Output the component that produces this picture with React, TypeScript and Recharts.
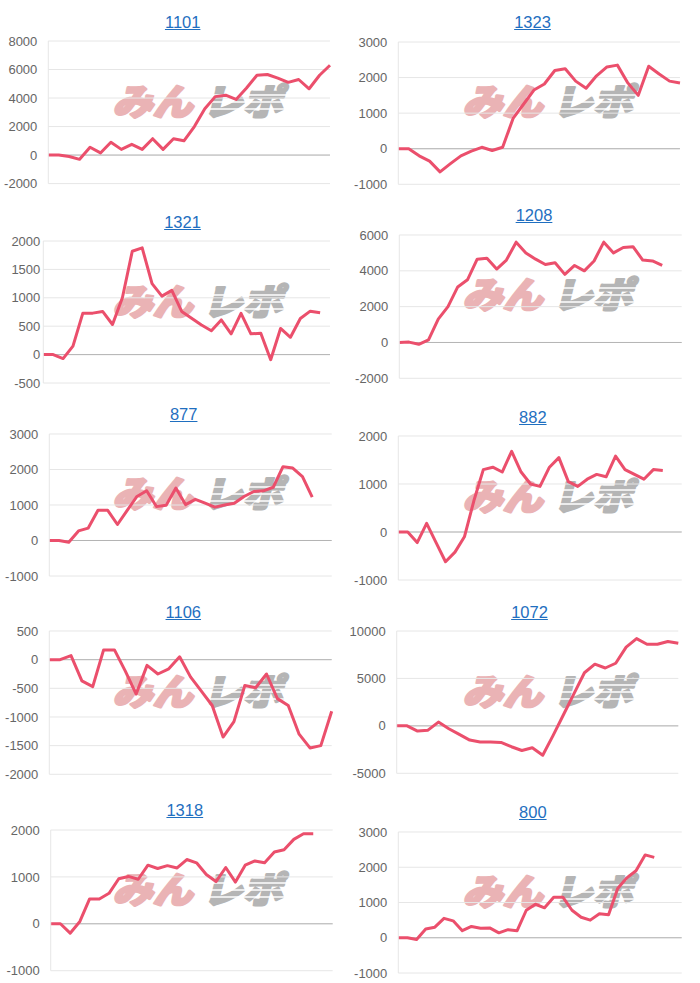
import React from 'react';
import { LineChart, Line, XAxis, YAxis, CartesianGrid, ReferenceLine } from 'recharts';

// ---- data ----
const titles = ['1101', '1323', '1321', '1208', '877', '882', '1106', '1072', '1318', '800'];

const s1101 = [0, 0, -100, -300, 550, 150, 900, 400, 750, 400, 1150, 400, 1150, 1000, 2000, 3250, 4100, 4200, 3900, 4700, 5600, 5650, 5400, 5100, 5300, 4650, 5600, 6300];
const s1323 = [0, 0, -200, -350, -650, -420, -200, -70, 40, -50, 40, 850, 1250, 1650, 1820, 2200, 2250, 1900, 1700, 2050, 2300, 2350, 1850, 1500, 2320, 2100, 1900, 1850];
const s1321 = [0, 0, -70, 150, 730, 730, 760, 530, 1000, 1820, 1880, 1250, 1030, 1130, 760, 640, 520, 420, 610, 365, 725, 365, 375, -90, 460, 305, 635, 765, 735];
const s1208 = [0, 20, -100, 150, 1300, 2000, 3100, 3500, 4650, 4700, 4100, 4600, 5600, 5000, 4650, 4350, 4450, 3800, 4300, 4000, 4550, 5600, 5000, 5300, 5350, 4600, 4550, 4300];
const s877 = [0, 0, -50, 270, 350, 850, 850, 450, 850, 1240, 1400, 960, 990, 1480, 1010, 1160, 1050, 940, 1000, 1050, 1240, 1380, 1400, 1500, 2080, 2040, 1800, 1220];
const s882 = [0, 0, -220, 180, -220, -620, -420, -100, 650, 1300, 1350, 1250, 1680, 1250, 1000, 950, 1350, 1550, 1050, 950, 1100, 1200, 1150, 1580, 1300, 1200, 1100, 1300, 1280];
const s1106 = [0, 0, 70, -370, -470, 170, 170, -200, -600, -100, -250, -160, 50, -300, -550, -800, -1350, -1080, -450, -490, -250, -680, -800, -1300, -1540, -1500, -900];
const s1072 = [0, 0, -550, -450, 400, -300, -900, -1500, -1700, -1700, -1750, -2200, -2600, -2300, -3100, -1000, 1200, 3400, 5600, 6500, 6100, 6600, 8300, 9200, 8600, 8600, 8900, 8700];
const s1318 = [0, 0, -200, 50, 530, 530, 650, 960, 1010, 950, 1250, 1180, 1240, 1190, 1370, 1300, 1050, 900, 1200, 890, 1250, 1340, 1300, 1530, 1580, 1800, 1920, 1920];
const s800 = [0, 0, -50, 250, 300, 550, 480, 200, 320, 270, 280, 140, 230, 200, 780, 950, 850, 1150, 1150, 780, 580, 500, 680, 650, 1400, 1700, 1900, 2350, 2280];

const series = [s1101, s1323, s1321, s1208, s877, s882, s1106, s1072, s1318, s800];

// number of x categories (days) for each chart
const dayCounts = [28, 28, 30, 30, 30, 31, 27, 28, 30, 32];

const ticks1101 = [-2000, 0, 2000, 4000, 6000, 8000];
const ticks1323 = [-1000, 0, 1000, 2000, 3000];
const ticks1321 = [-500, 0, 500, 1000, 1500, 2000];
const ticks1208 = [-2000, 0, 2000, 4000, 6000];
const ticks877 = [-1000, 0, 1000, 2000, 3000];
const ticks882 = [-1000, 0, 1000, 2000];
const ticks1106 = [-2000, -1500, -1000, -500, 0, 500];
const ticks1072 = [-5000, 0, 5000, 10000];
const ticks1318 = [-1000, 0, 1000, 2000];
const ticks800 = [-1000, 0, 1000, 2000, 3000];

const tickSets = [ticks1101, ticks1323, ticks1321, ticks1208, ticks877, ticks882, ticks1106, ticks1072, ticks1318, ticks800];

// ---- layout (plot rectangles & title centers, px) ----
const layout = [
  { col: 0, L: 48.3, R: 330, T: 40.7, B: 183.3, cx: 182.7, cy: 21.7 },
  { col: 1, L: 398.3, R: 680, T: 41.7, B: 184, cx: 532.5, cy: 21.7 },
  { col: 0, L: 43.3, R: 330, T: 240.7, B: 382.7, cx: 182.5, cy: 221.7 },
  { col: 1, L: 399.3, R: 681.7, T: 235, B: 378.3, cx: 534, cy: 215 },
  { col: 0, L: 49.3, R: 331.7, T: 434, B: 576, cx: 183.7, cy: 414 },
  { col: 1, L: 398.3, R: 681.7, T: 436, B: 580, cx: 532.8, cy: 416.7 },
  { col: 0, L: 49.3, R: 331.7, T: 630.7, B: 774, cx: 183.3, cy: 611.7 },
  { col: 1, L: 396.7, R: 678.3, T: 631, B: 773.3, cx: 529.5, cy: 611.7 },
  { col: 0, L: 50.7, R: 332.7, T: 830, B: 970.7, cx: 184.8, cy: 810 },
  { col: 1, L: 398.3, R: 681.7, T: 831.7, B: 972.7, cx: 532.8, cy: 811.7 },
];

const LINE_COLOR = '#eb4f6c';
const GRID_COLOR = '#e6e6e6';
const ZERO_COLOR = '#b4b4b4';
const TICK_COLOR = '#666666';
const TITLE_COLOR = '#1f6fc0';
const PINK = '#eab3b5';
const GRAY = '#b5b5b5';
const WM_FONT = "'Noto Sans CJK JP', sans-serif";

function Watermark({ x, y }: { x: number; y: number }) {
  return (
    <svg
      width={200}
      height={42}
      style={{ position: 'absolute', left: x - 8, top: y - 4, zIndex: 0, overflow: 'visible' }}
    >
      <g transform="skewX(-14)">
        <text
          x={16}
          y={33}
          fontSize={36}
          fontWeight={900}
          fontFamily={WM_FONT}
          textLength={80}
          lengthAdjust="spacingAndGlyphs"
          fill={PINK}
          stroke={PINK}
          strokeWidth={2.5}
          strokeLinejoin="round"
        >
          みん
        </text>
        <text
          x={106}
          y={33}
          fontSize={36}
          fontWeight={900}
          fontFamily={WM_FONT}
          textLength={80}
          lengthAdjust="spacingAndGlyphs"
          fill={GRAY}
          stroke={GRAY}
          strokeWidth={2.5}
          strokeLinejoin="round"
        >
          レポ
        </text>
      </g>
      <line x1={92} x2={200} y1={13} y2={13} stroke="#ffffff" strokeWidth={1.3} />
      <line x1={92} x2={200} y1={20} y2={20} stroke="#ffffff" strokeWidth={1.3} />
      <line x1={92} x2={200} y1={27} y2={27} stroke="#ffffff" strokeWidth={1.3} />
    </svg>
  );
}

function Panel({ idx }: { idx: number }) {
  const lay = layout[idx];
  const values = series[idx];
  const n = dayCounts[idx];
  const ticks = tickSets[idx];
  const data = Array.from({ length: n }, (_, i) => ({
    d: String(i + 1),
    v: i < values.length ? values[i] : null,
  }));
  const chartLeft = lay.col === 0 ? 0 : 350;
  const pad = 10;
  const width = lay.R - chartLeft + pad;
  const height = lay.B - lay.T + pad * 2;
  const yWidth = lay.L - chartLeft;
  const wmX = lay.col === 0 ? 113 : 463;
  return (
    <>
      <div
        style={{
          position: 'absolute',
          left: lay.cx - 60,
          width: 120,
          top: lay.cy - 10,
          height: 20,
          lineHeight: '20px',
          textAlign: 'center',
          fontFamily: "'Liberation Sans', Arial, sans-serif",
          fontSize: 16.5,
        }}
      >
        <a href="#" style={{ color: TITLE_COLOR, textDecoration: 'underline' }}>
          {titles[idx]}
        </a>
      </div>
      <Watermark x={wmX} y={lay.cy + 64} />
      <div style={{ position: 'absolute', left: chartLeft, top: lay.T - pad, zIndex: 1 }}>
        <LineChart
          width={width}
          height={height}
          data={data}
          margin={{ top: pad, right: pad, bottom: pad, left: 0 }}
        >
          <CartesianGrid vertical={false} stroke={GRID_COLOR} strokeWidth={1} />
          <XAxis dataKey="d" hide scale="point" padding={{ left: 0, right: 0 }} />
          <YAxis
            type="number"
            domain={[ticks[0], ticks[ticks.length - 1]]}
            ticks={ticks}
            interval={0}
            width={yWidth}
            tickLine={false}
            tickSize={0}
            tickMargin={idx === 2 ? 3 : 11}
            axisLine={{ stroke: GRID_COLOR }}
            tick={{ fill: TICK_COLOR, fontSize: 13, fontFamily: "'Liberation Sans', Arial, sans-serif" }}
          />
          <ReferenceLine y={0} stroke={ZERO_COLOR} strokeWidth={1} />
          <Line
            type="linear"
            dataKey="v"
            stroke={LINE_COLOR}
            strokeWidth={3}
            dot={false}
            activeDot={false}
            isAnimationActive={false}
            strokeLinejoin="round"
          />
        </LineChart>
      </div>
    </>
  );
}

export default function App() {
  return (
    <div
      style={{
        position: 'absolute',
        left: 0,
        top: 0,
        width: 700,
        height: 983,
        background: '#ffffff',
        overflow: 'hidden',
      }}
    >
      {titles.map((_, i) => (
        <Panel key={i} idx={i} />
      ))}
    </div>
  );
}
